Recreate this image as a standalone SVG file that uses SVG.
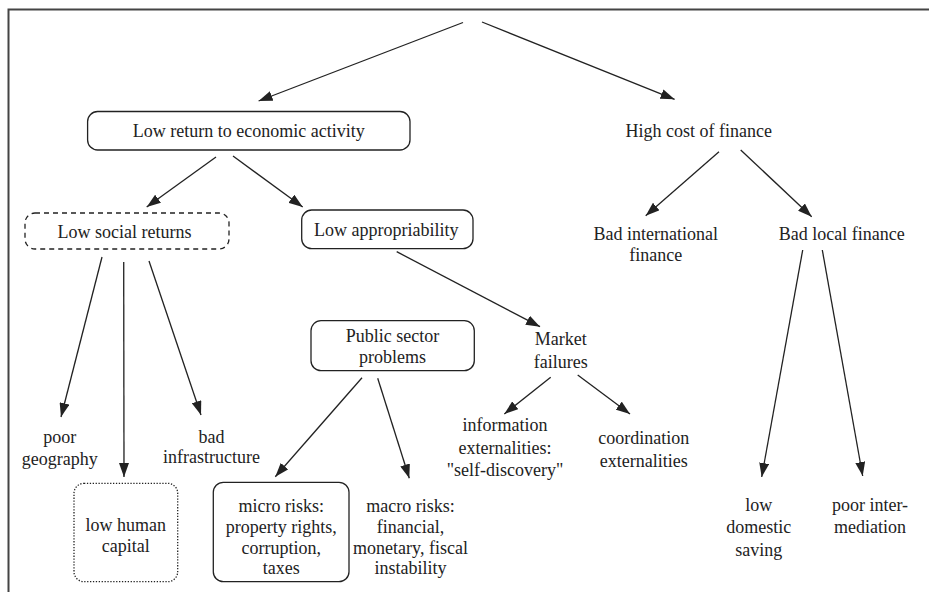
<svg xmlns="http://www.w3.org/2000/svg" width="929" height="592" viewBox="0 0 929 592">
<style>
text{font-size:18px;fill:#222;text-anchor:middle}
.box{fill:none;stroke:#222;stroke-width:1.3}
.dash{stroke-dasharray:5 4}
.dot{stroke-dasharray:1.3 1.6}
.edge{stroke:#222;stroke-width:1.3;fill:none;marker-end:url(#arr)}
</style>
<defs>
<marker id="arr" viewBox="0 0 14 10" refX="14" refY="5" markerWidth="14" markerHeight="10" markerUnits="userSpaceOnUse" orient="auto">
<path d="M0,0 L14,5 L0,10 z" fill="#222"/>
</marker>
</defs>
<rect width="929" height="592" fill="#fff"/>
<path d="M8.5,592 V9.5 H929" fill="none" stroke="#444" stroke-width="2"/>
<g id="connectors">
<line class="edge" x1="463" y1="22.5" x2="258.6" y2="101"/>
<line class="edge" x1="482" y1="22" x2="674.6" y2="99.3"/>
<line class="edge" x1="216" y1="157" x2="146.7" y2="207"/>
<line class="edge" x1="233" y1="156" x2="302.7" y2="207"/>
<line class="edge" x1="396.7" y1="251.7" x2="540" y2="326.7"/>
<line class="edge" x1="719" y1="151.7" x2="645.7" y2="215.7"/>
<line class="edge" x1="740.7" y1="150" x2="811.7" y2="216.7"/>
<line class="edge" x1="102" y1="257" x2="61" y2="417"/>
<line class="edge" x1="123.7" y1="262" x2="124" y2="477"/>
<line class="edge" x1="149" y1="261" x2="201" y2="415"/>
<line class="edge" x1="362" y1="377.7" x2="275.3" y2="476.7"/>
<line class="edge" x1="377.7" y1="378.3" x2="409.3" y2="478.3"/>
<line class="edge" x1="550.7" y1="377.3" x2="504.3" y2="414"/>
<line class="edge" x1="577.7" y1="375" x2="630" y2="414"/>
<line class="edge" x1="802.7" y1="250" x2="761.7" y2="477"/>
<line class="edge" x1="822.3" y1="250" x2="862.7" y2="476"/>
</g>
<g font-family="'Liberation Serif', 'Times New Roman', Times, 'DejaVu Serif', serif">
<g id="low-return">
<rect class="box" x="87.6" y="111.5" width="322.4" height="38.5" rx="10"/>
<text x="248.8" y="137">Low return to economic activity</text>
</g>
<g id="high-cost">
<text x="698.7" y="136.5">High cost of finance</text>
</g>
<g id="low-social">
<rect class="box dash" x="25" y="213" width="204" height="36" rx="10"/>
<text x="124.5" y="237.5">Low social returns</text>
</g>
<g id="low-approp">
<rect class="box" x="301.7" y="210" width="171.3" height="38.7" rx="10"/>
<text x="386.3" y="236">Low appropriability</text>
</g>
<g id="bad-intl">
<text x="655.8" y="239.5">Bad international</text>
<text x="655.8" y="260.5">finance</text>
</g>
<g id="bad-local">
<text x="841.8" y="239.5">Bad local finance</text>
</g>
<g id="public-sector">
<rect class="box" x="311" y="320.7" width="163.3" height="50" rx="10"/>
<text x="392.6" y="342.3">Public sector</text>
<text x="392.6" y="363.3">problems</text>
</g>
<g id="market-failures">
<text x="560.7" y="345.3">Market</text>
<text x="560.7" y="367.5">failures</text>
</g>
<g id="info-ext">
<text x="505" y="431.3">information</text>
<text x="505" y="453.8">externalities:</text>
<text x="505" y="476.3">"self-discovery"</text>
</g>
<g id="coord-ext">
<text x="643.7" y="444.3">coordination</text>
<text x="643.7" y="466.8">externalities</text>
</g>
<g id="poor-geo">
<text x="59.8" y="443.3">poor</text>
<text x="59.8" y="464.5">geography</text>
</g>
<g id="bad-infra">
<text x="211.5" y="443.3">bad</text>
<text x="211.5" y="462.8">infrastructure</text>
</g>
<g id="low-human">
<rect class="box dot" x="74" y="483.3" width="103.7" height="98.4" rx="10"/>
<text x="125.8" y="531">low human</text>
<text x="125.8" y="552">capital</text>
</g>
<g id="micro-risks">
<rect class="box" x="213.3" y="482.3" width="135.7" height="99.4" rx="10"/>
<text x="281.2" y="511.7">micro risks:</text>
<text x="281.2" y="532.7">property rights,</text>
<text x="281.2" y="553.7">corruption,</text>
<text x="281.2" y="574.3">taxes</text>
</g>
<g id="macro-risks">
<text x="410.5" y="511.7">macro risks:</text>
<text x="410.5" y="532.7">financial,</text>
<text x="410.5" y="553.7">monetary, fiscal</text>
<text x="410.5" y="574.3">instability</text>
</g>
<g id="low-saving">
<text x="758.7" y="511">low</text>
<text x="758.7" y="533.3">domestic</text>
<text x="758.7" y="555.8">saving</text>
</g>
<g id="poor-inter">
<text x="870" y="511">poor inter-</text>
<text x="870" y="533.3">mediation</text>
</g>
</g>
</svg>
